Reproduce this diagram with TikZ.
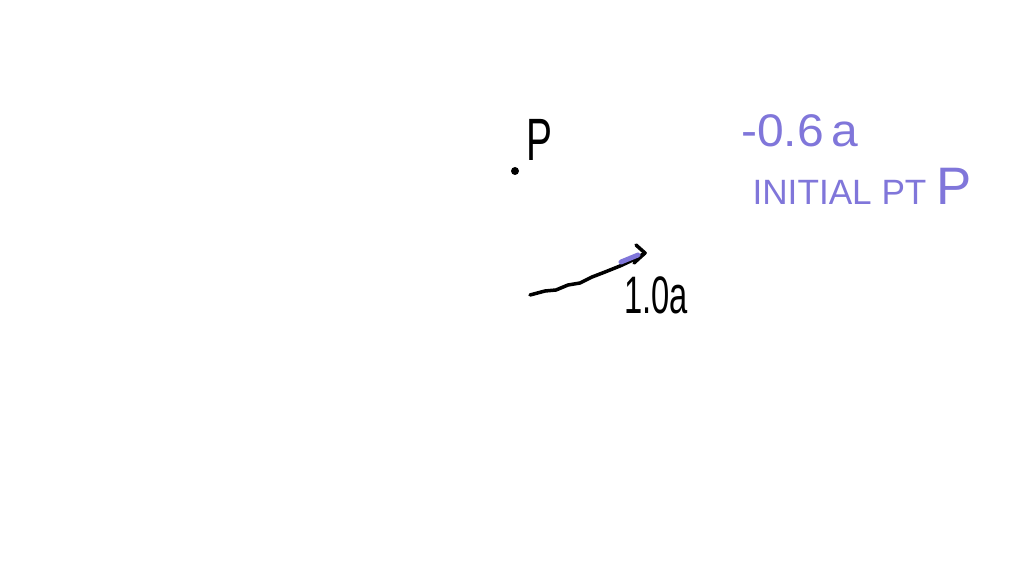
\documentclass[tikz,border=0pt]{standalone}
\usepackage{fontspec}
\setmainfont{Liberation Sans}
\usetikzlibrary{arrows.meta}
\definecolor{pen}{RGB}{128,118,218}
\tikzset{
  ink/.style={font=\fontsize{15}{18}\selectfont, inner sep=0pt, text=black},
  note/.style={font=\fontsize{13}{16}\selectfont, inner sep=0pt, text=pen},
  small/.style={font=\fontsize{10}{12}\selectfont, inner sep=0pt, text=pen},
  stroke/.style={line width=1pt, line cap=round, line join=round},
}
\begin{document}
\begin{tikzpicture}[x=0.01cm,y=-0.01cm]
\useasboundingbox[fill=white] (0,0) rectangle (1024,576);
% point P
\fill (515,171) circle (4);
\node[ink, font=\fontsize{17}{20}\selectfont] (P) at (539,140) {\scalebox{0.65}[1]{P}};
% vector a
\coordinate (a0) at (530,295);
\coordinate (a1) at (645,253);
\coordinate (b1) at (636,245);
\coordinate (b2) at (634,263);
\draw[stroke] (a0) -- (545,291) -- (556,290) -- (568,285) -- (580,283)
  -- (592,277) -- (605,272) -- (620,266) -- (635,259) -- (a1);
\draw[stroke] (b1) -- (a1) -- (b2);
\draw[pen, line width=1.4pt, line cap=round] (621,262) -- (638,255);
\node[ink] (lab) at (656,295) {\scalebox{0.62}[1]{1.0a}};
% notes
\node[note] (neg) at (800,131) {\scalebox{1.05}[1]{-0.6\,a}};
\node[small] (init) at (862,186) {INITIAL PT \raisebox{0pt}{\fontsize{15}{18}\selectfont P}};
\end{tikzpicture}
\end{document}
